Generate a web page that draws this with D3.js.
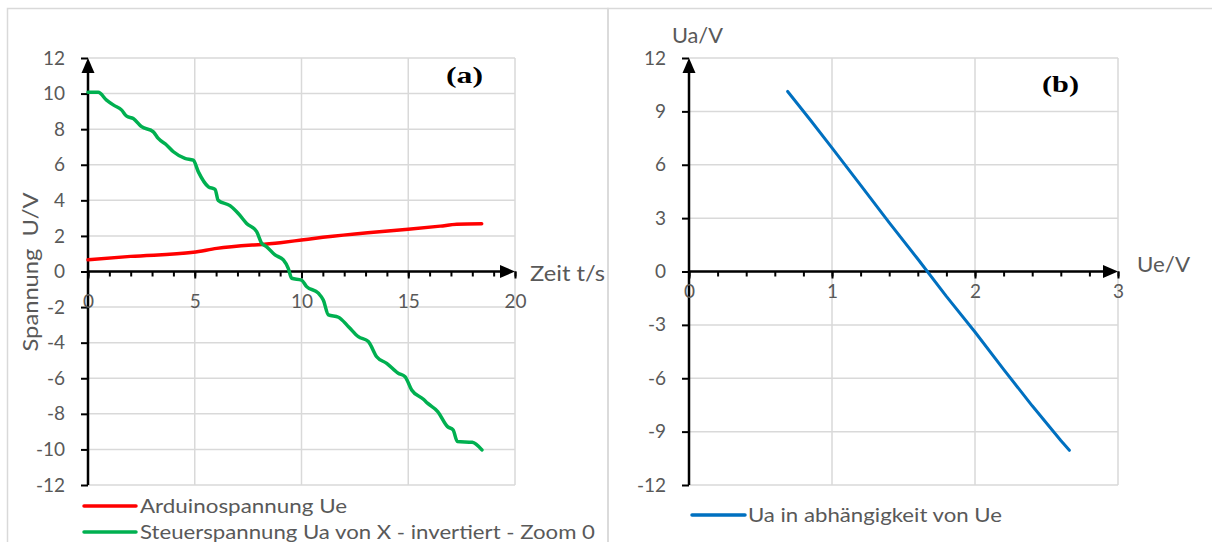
<!DOCTYPE html>
<html>
<head>
<meta charset="utf-8">
<script src="https://cdn.jsdelivr.net/npm/d3@7"></script>
<style>
  body { margin: 0; background: #fff; }
  text { font-family: Lato, "Open Sans", sans-serif; fill: #595959; }
  .grid line { stroke: #d9d9d9; stroke-width: 1.5; }
</style>
</head>
<body>
<svg id="chart" width="1212" height="542"></svg>
<script>
// Arduinospannung Ue over time
const tRed  = [0, 2, 4.93, 6.03, 9.0, 10, 11, 13.1, 15, 16.5, 17.27, 18.44];
const ueRed = [0.66, 0.85, 1.08, 1.3, 1.62, 1.77, 1.92, 2.18, 2.37, 2.55, 2.65, 2.68];

// Steuerspannung Ua over time
const tGreen = [0, 0.48, 0.87, 1.2, 1.58, 1.81, 2.12, 2.51, 3.06, 3.29, 3.69, 4.0, 4.54, 4.93,
  5.17, 5.64, 5.95, 6.1, 6.65, 7.04, 7.43, 7.9, 8.14, 8.37, 8.76, 9.15, 9.38, 9.54, 10.0,
  10.24, 10.79, 11.02, 11.26, 11.73, 12.2, 12.66, 13.13, 13.52, 13.99, 14.53, 14.85, 15.16,
  15.71, 15.9, 16.38, 16.84, 17.1, 17.3, 18.0, 18.45];
const uaGreen = [10.07, 10.07, 9.63, 9.35, 9.07, 8.73, 8.6, 8.14, 7.85, 7.48, 7.1, 6.73, 6.36, 6.26,
  5.6, 4.76, 4.62, 4.0, 3.7, 3.26, 2.7, 2.24, 1.58, 1.39, 0.93, 0.65, 0.18, -0.38, -0.48,
  -0.85, -1.22, -1.6, -2.44, -2.57, -3.1, -3.66, -3.94, -4.79, -5.16, -5.72, -5.91, -6.66,
  -7.18, -7.4, -7.87, -8.72, -8.9, -9.56, -9.6, -10.03];

// Ua in abhängigkeit von Ue
const ueBlue = [0.69, 0.85, 1.0, 1.2, 1.4, 1.6, 1.8, 2.0, 2.2, 2.4, 2.6, 2.66];
const uaBlue = [10.12, 8.5, 6.95, 4.85, 2.75, 0.7, -1.4, -3.4, -5.5, -7.55, -9.5, -10.05];

const xTicksA = [0, 5, 10, 15, 20];
const yTicksA = [12, 10, 8, 6, 4, 2, 0, -2, -4, -6, -8, -10, -12];
const xTicksB = [0, 1, 2, 3];
const yTicksB = [12, 9, 6, 3, 0, -3, -6, -9, -12];

const svg = d3.select("#chart");

// text helper: stretch to the width measured in the picture
function label(g, txt, x, y, size, width) {
  return g.append("text").attr("x", x).attr("y", y).attr("font-size", size)
    .attr("textLength", width).attr("lengthAdjust", "spacingAndGlyphs").text(txt);
}

// chart frames
svg.append("rect").attr("x", 7.5).attr("y", 8.5).attr("width", 600.5).attr("height", 560)
  .attr("fill", "none").attr("stroke", "#d9d9d9").attr("stroke-width", 1.5);
svg.append("rect").attr("x", 608).attr("y", 8.5).attr("width", 640).attr("height", 560)
  .attr("fill", "none").attr("stroke", "#d9d9d9").attr("stroke-width", 1.5);

function arrowY(g, x, yTop) {
  g.append("path").attr("d", `M${x},${yTop} l-6.5,15 l13,0 z`).attr("fill", "#000");
}
function arrowX(g, xTip, y) {
  g.append("path").attr("d", `M${xTip},${y} l-15,-6.5 l0,13 z`).attr("fill", "#000");
}

function panel(opt) {
  const g = svg.append("g");
  const x = d3.scaleLinear().domain(opt.xDomain).range(opt.xRange);
  const y = d3.scaleLinear().domain([-12, 12]).range([485, 58]);

  // grid
  g.append("g").attr("class", "grid").selectAll("line").data(opt.xTicks).join("line")
    .attr("x1", d => x(d)).attr("x2", d => x(d)).attr("y1", y(12)).attr("y2", y(-12));
  g.append("g").attr("class", "grid").selectAll("line").data(opt.yTicks).join("line")
    .attr("x1", x(0)).attr("x2", x(opt.xDomain[1])).attr("y1", d => y(d)).attr("y2", d => y(d));

  // y axis
  const ya = g.append("g").attr("transform", `translate(${x(0)},0)`)
    .call(d3.axisLeft(y).tickValues(opt.yTicks).tickSize(7).tickPadding(16).tickFormat(d => String(d)));
  ya.select(".domain").remove();
  ya.selectAll(".tick line").attr("stroke", "#000").attr("stroke-width", 2);
  ya.selectAll(".tick text").attr("font-size", 19).attr("fill", "#595959")
    .attr("font-family", "Lato");
  g.append("line").attr("x1", x(0)).attr("x2", x(0)).attr("y1", y(-12)).attr("y2", y(12) + 6)
    .attr("stroke", "#000").attr("stroke-width", 2.5);
  arrowY(g, x(0), y(12));

  // x axis with minor ticks
  const xa = g.append("g").attr("transform", `translate(0,${y(0)})`)
    .call(d3.axisBottom(x).tickValues(opt.minorTicks).tickSize(5).tickFormat(""));
  xa.select(".domain").remove();
  xa.selectAll(".tick line").attr("stroke", "#000").attr("stroke-width", 2);
  const xm = g.append("g").attr("transform", `translate(0,${y(0)})`)
    .call(d3.axisBottom(x).tickValues(opt.xTicks).tickSize(7).tickPadding(opt.labelPad).tickFormat(d => String(d)));
  xm.select(".domain").remove();
  xm.selectAll(".tick line").attr("stroke", "#000").attr("stroke-width", 2);
  xm.selectAll(".tick text").attr("font-size", 19).attr("fill", "#595959")
    .attr("font-family", "Lato");
  g.append("line").attr("x1", x(0)).attr("x2", x(opt.xDomain[1]) - 6).attr("y1", y(0)).attr("y2", y(0))
    .attr("stroke", "#000").attr("stroke-width", 2.5);
  arrowX(g, x(opt.xDomain[1]), y(0));

  // series
  opt.series.forEach(s => {
    const pts = s.xs.map((v, i) => [v, s.ys[i]]);
    g.append("path").datum(pts)
      .attr("fill", "none").attr("stroke", s.color).attr("stroke-width", s.width)
      .attr("stroke-linecap", "round").attr("stroke-linejoin", "round")
      .attr("d", d3.line().x(d => x(d[0])).y(d => y(d[1])).curve(s.curve));
  });

  // panel label
  g.append("text").attr("x", opt.tag[1]).attr("y", opt.tag[2])
    .attr("textLength", 37).attr("lengthAdjust", "spacingAndGlyphs")
    .style("font-family", "'Liberation Serif', 'Times New Roman', serif").style("fill", "#000")
    .attr("font-weight", "bold").attr("font-size", 23).text(opt.tag[0]);

  return { g, x, y };
}

const a = panel({
  xDomain: [0, 20], xRange: [88, 515],
  xTicks: xTicksA, yTicks: yTicksA, minorTicks: d3.range(0, 21, 1), labelPad: 16,
  tag: ["(a)", 446, 83],
  series: [
    { xs: tRed, ys: ueRed, color: "#ff0000", width: 3.5, curve: d3.curveMonotoneX },
    { xs: tGreen, ys: uaGreen, color: "#00b050", width: 3.5, curve: d3.curveMonotoneX }
  ]
});
label(a.g, "Zeit t/s", 530, 281, 21, 75);
a.g.append("text").attr("transform", "translate(38,272) rotate(-90)").attr("text-anchor", "middle")
  .attr("font-size", 21).attr("textLength", 159).attr("lengthAdjust", "spacingAndGlyphs")
  .attr("xml:space", "preserve").text("Spannung  U/V");

const b = panel({
  xDomain: [0, 3], xRange: [689, 1118],
  xTicks: xTicksB, yTicks: yTicksB, minorTicks: d3.range(0, 3.01, 0.2), labelPad: 6,
  tag: ["(b)", 1042, 92],
  series: [
    { xs: ueBlue, ys: uaBlue, color: "#0070c0", width: 3, curve: d3.curveLinear }
  ]
});
label(b.g, "Ue/V", 1137, 272, 21, 53);
label(b.g, "Ua/V", 672, 43, 21, 51);

// legends
const legendA = [
  { label: "Arduinospannung Ue", color: "#ff0000", y: 506, w: 207 },
  { label: "Steuerspannung Ua von X - invertiert - Zoom 0", color: "#00b050", y: 532, w: 455 }
];
const la = svg.append("g").selectAll("g").data(legendA).join("g");
la.append("line").attr("x1", 84).attr("x2", 136).attr("y1", d => d.y).attr("y2", d => d.y)
  .attr("stroke", d => d.color).attr("stroke-width", 3.5).attr("stroke-linecap", "round");
la.append("text").attr("x", 140).attr("y", d => d.y + 7).attr("font-size", 20)
  .attr("textLength", d => d.w).attr("lengthAdjust", "spacingAndGlyphs").text(d => d.label);

const lb = svg.append("g");
lb.append("line").attr("x1", 692).attr("x2", 745).attr("y1", 515).attr("y2", 515)
  .attr("stroke", "#0070c0").attr("stroke-width", 3.5).attr("stroke-linecap", "round");
label(lb, "Ua in abhängigkeit von Ue", 748, 522, 20, 254);
</script>
</body>
</html>
